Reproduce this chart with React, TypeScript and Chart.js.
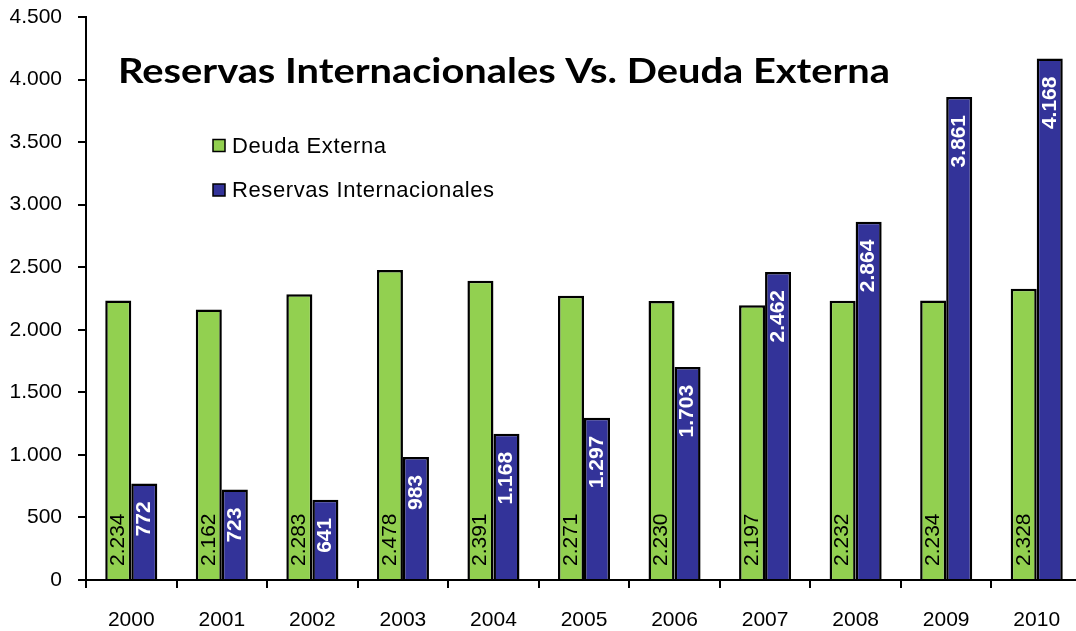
import { useEffect, useRef } from "react";
import { Chart, registerables } from "chart.js";

Chart.register(...registerables);

const years = ["2000", "2001", "2002", "2003", "2004", "2005", "2006", "2007", "2008", "2009", "2010"];
const deudaExterna = [2234, 2162, 2283, 2478, 2391, 2271, 2230, 2197, 2232, 2234, 2328];
const reservasInternacionales = [772, 723, 641, 983, 1168, 1297, 1703, 2462, 2864, 3861, 4168];
const yTicks = [0, 500, 1000, 1500, 2000, 2500, 3000, 3500, 4000, 4500];
const seriesNames = ["Deuda Externa", "Reservas Internacionales"];
const seriesColors = ["#92D050", "#333399"];
const chartTitle = "Reservas Internacionales Vs. Deuda Externa";

const SANS = '"Liberation Sans", Arial, sans-serif';

const fmt = (n: number) => String(n).replace(/\B(?=(\d{3})+(?!\d))/g, ".");

const overlayPlugin = {
  id: "overlay",
  afterDatasetsDraw(chart: any) {
    const ctx = chart.ctx as CanvasRenderingContext2D;
    ctx.save();
    chart.data.datasets.forEach((ds: any, di: number) => {
      const meta = chart.getDatasetMeta(di);
      meta.data.forEach((bar: any, i: number) => {
        const v = ds.data[i] as number;
        const { x, y, base } = bar.getProps(["x", "y", "base"], true);
        ctx.save();
        ctx.translate(x, di === 0 ? base - 13 : y + 18);
        ctx.rotate(-Math.PI / 2);
        ctx.textBaseline = "middle";
        ctx.textAlign = di === 0 ? "left" : "right";
        ctx.font = di === 0 ? `21px ${SANS}` : `bold 21px ${SANS}`;
        ctx.fillStyle = di === 0 ? "#000" : "#fff";
        ctx.fillText(fmt(v), 0, 0);
        ctx.restore();
      });
    });

    // title (stretched horizontally to the reference's width)
    ctx.save();
    ctx.font = 'bold 35px Lato, "Open Sans", sans-serif';
    ctx.fillStyle = "#000";
    ctx.textAlign = "left";
    ctx.textBaseline = "alphabetic";
    const w = ctx.measureText(chartTitle).width;
    ctx.translate(118, 83);
    ctx.scale(772 / w, 1);
    ctx.fillText(chartTitle, 0, 0);
    ctx.restore();

    // legend
    chart.data.datasets.forEach((ds: any, di: number) => {
      const cy = 145.5 + di * 44.5;
      ctx.fillStyle = ds.backgroundColor;
      ctx.fillRect(213, cy - 6, 12, 12);
      ctx.strokeStyle = "#000";
      ctx.lineWidth = 1.5;
      ctx.strokeRect(213, cy - 6, 12, 12);
      ctx.fillStyle = "#000";
      ctx.font = `22px ${SANS}`;
      (ctx as any).letterSpacing = "0.6px";
      ctx.textAlign = "left";
      ctx.textBaseline = "middle";
      ctx.fillText(ds.label, 232, cy + 1);
      (ctx as any).letterSpacing = "0px";
    });
    ctx.restore();
  },
};

export default function App() {
  const ref = useRef<HTMLCanvasElement | null>(null);

  useEffect(() => {
    if (!ref.current) return;
    const chart = new Chart(ref.current, {
      type: "bar",
      data: {
        labels: years,
        datasets: [
          {
            label: seriesNames[0],
            data: deudaExterna,
            backgroundColor: seriesColors[0],
            borderColor: "#000",
            borderWidth: 2.5,
            categoryPercentage: 0.575,
            barPercentage: 1,
          },
          {
            label: seriesNames[1],
            data: reservasInternacionales,
            backgroundColor: seriesColors[1],
            borderColor: "#000",
            borderWidth: 2.5,
            categoryPercentage: 0.575,
            barPercentage: 1,
          },
        ],
      },
      options: {
        responsive: false,
        animation: false,
        layout: { padding: { top: 17, right: 8, left: 0, bottom: 0 } },
        plugins: {
          legend: { display: false },
          tooltip: { enabled: false },
        },
        scales: {
          x: {
            type: "category",
            offset: true,
            afterFit: (s: any) => {
              s.height = 51;
              s.paddingLeft = 0;
              s.paddingRight = 0;
            },
            grid: {
              offset: true,
              drawOnChartArea: false,
              drawTicks: true,
              tickLength: 8,
              color: "#000",
              lineWidth: 2,
            },
            border: { display: true, color: "#000", width: 2 },
            ticks: {
              color: "#000",
              font: { family: SANS, size: 21 },
              padding: 20,
              maxRotation: 0,
              autoSkip: false,
            },
          },
          y: {
            min: 0,
            max: 4500,
            afterFit: (s: any) => {
              s.width = 86;
              s.paddingTop = 0;
              s.paddingBottom = 0;
            },
            afterBuildTicks: (s: any) => {
              s.ticks = yTicks.map((v) => ({ value: v }));
            },
            grid: {
              drawOnChartArea: false,
              drawTicks: true,
              tickLength: 8,
              color: "#000",
              lineWidth: 2,
            },
            border: { display: true, color: "#000", width: 2 },
            ticks: {
              color: "#000",
              font: { family: SANS, size: 21 },
              padding: 16,
              callback: (v: any) => fmt(Number(v)),
            },
          },
        },
      },
      plugins: [overlayPlugin],
    });
    return () => chart.destroy();
  }, []);

  return (
    <div
      style={{
        position: "fixed",
        left: 0,
        top: 0,
        width: 1076,
        height: 631,
        overflow: "hidden",
        background: "#fff",
      }}
    >
      <canvas ref={ref} width={1090} height={631} />
    </div>
  );
}
